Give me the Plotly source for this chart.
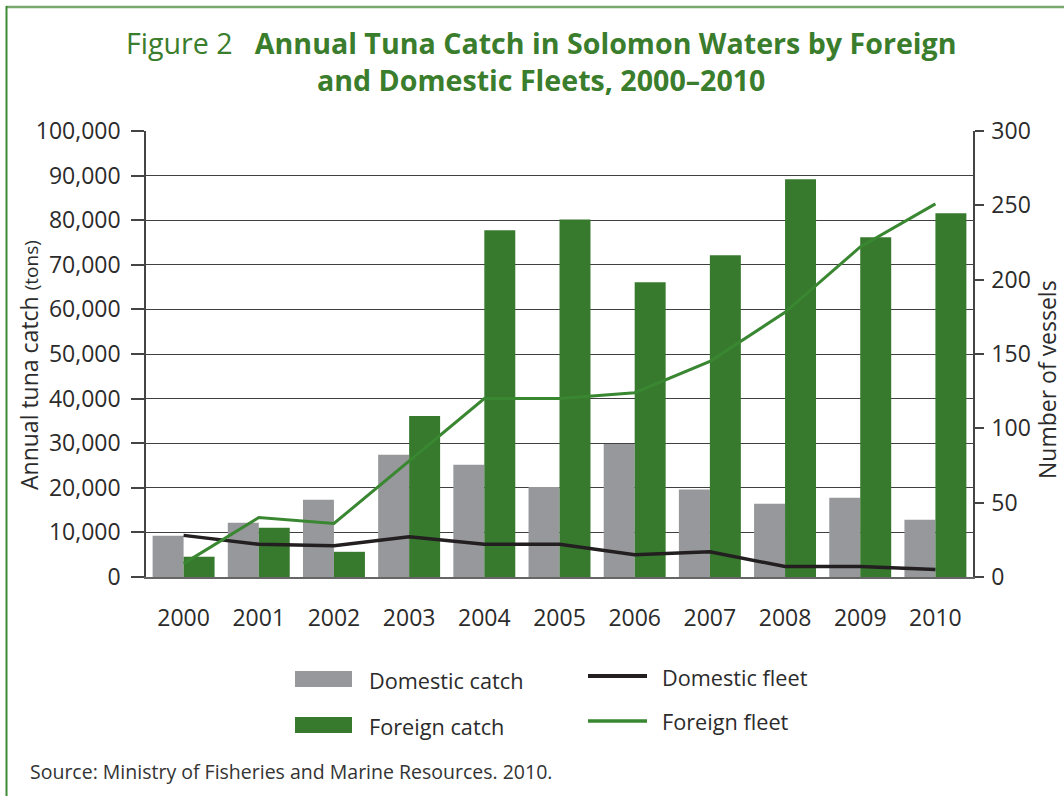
import plotly.graph_objects as go

# Data
years = ['2000', '2001', '2002', '2003', '2004', '2005',
         '2006', '2007', '2008', '2009', '2010']
domestic_catch = [9250, 12150, 17300, 27400, 25150, 20200,
                  29800, 19600, 16400, 17750, 12850]
foreign_catch = [4550, 11050, 5650, 36100, 77750, 80150,
                 66100, 72150, 89200, 76200, 81550]
domestic_fleet = [28, 22, 21, 27, 22, 22, 15, 17, 7, 7, 5]
foreign_fleet = [9, 40, 36, 78, 120, 120, 124, 145, 178, 222, 251]

series_names = ['Domestic catch', 'Foreign catch', 'Domestic fleet', 'Foreign fleet']

GREEN = '#377a2e'
GRAY = '#97989b'
BLACK = '#231f20'
LINE_GREEN = '#3a8732'
TITLE_GREEN = '#3a7d2c'
TEXT = '#2b2b2b'
FONT = 'Open Sans'

W, H = 1064, 796
# plot area in pixels (used to place the hand drawn legend / frame)
L, R, T, B = 146, 973, 131, 577


def px(x):
    return (x - L) / (R - L)


def py(y):
    return (B - y) / (B - T)


fig = go.Figure()

fig.add_bar(x=years, y=domestic_catch, name=series_names[0],
            marker=dict(color=GRAY, line=dict(width=0)))
fig.add_bar(x=years, y=foreign_catch, name=series_names[1],
            marker=dict(color=GREEN, line=dict(width=0)))
fig.add_scatter(x=years, y=domestic_fleet, name=series_names[2], yaxis='y2',
                mode='lines', line=dict(color=BLACK, width=3.5))
fig.add_scatter(x=years, y=foreign_fleet, name=series_names[3], yaxis='y2',
                mode='lines', line=dict(color=LINE_GREEN, width=3))

fig.update_layout(
    width=W, height=H,
    margin=dict(l=L, r=W - R, t=T, b=H - B, pad=0),
    paper_bgcolor='white', plot_bgcolor='white',
    font=dict(family=FONT, size=23, color=TEXT),
    showlegend=False,
    barmode='group', bargap=0.176, bargroupgap=0,
    xaxis=dict(
        type='category', showline=True, linecolor='#666', linewidth=1.5,
        ticks='', showgrid=False, tickfont=dict(size=23),
        ticklabelstandoff=20,
    ),
    yaxis=dict(
        range=[0, 100000], dtick=10000, tickformat=',',
        showgrid=True, gridcolor='#404040', gridwidth=1.2,
        showline=True, linecolor='#444', linewidth=1.5,
        ticks='outside', ticklen=13, tickcolor='#444', tickwidth=1.5,
        tickfont=dict(size=23), ticklabelstandoff=6, zeroline=False,
    ),
    yaxis2=dict(
        range=[0, 300], dtick=50, overlaying='y', side='right',
        showgrid=False, showline=True, linecolor='#444', linewidth=1.5,
        ticks='outside', ticklen=9, tickcolor='#444', tickwidth=1.5,
        tickfont=dict(size=23), ticklabelstandoff=3, zeroline=False,
    ),
)

# title
fig.add_annotation(
    text=('Figure 2\u00a0\u00a0\u00a0<b>Annual Tuna Catch in Solomon Waters by Foreign'
          '<br>and Domestic Fleets, 2000\u20132010</b>'),
    x=px(541), y=py(61), xref='paper', yref='paper', xanchor='center',
    yanchor='middle', showarrow=False,
    font=dict(family=FONT, size=28.6, color=TITLE_GREEN),
)

# axis titles
fig.add_annotation(
    text='Annual tuna catch <span style="font-size:19px">(tons)</span>',
    x=px(29), y=py(365), xref='paper', yref='paper', textangle=-90,
    xanchor='center', yanchor='middle',
    showarrow=False, font=dict(size=23, color=TEXT),
)
fig.add_annotation(
    text='Number of vessels', x=px(1047), y=py(380), xref='paper', yref='paper',
    textangle=-90, xanchor='center', yanchor='middle',
    showarrow=False, font=dict(size=23, color=TEXT),
)

# green frame around the figure
fig.add_shape(type='line', xref='paper', yref='paper',
              x0=px(6), x1=px(1070), y0=py(7), y1=py(7),
              line=dict(color='#78a96f', width=2.5))
fig.add_shape(type='line', xref='paper', yref='paper',
              x0=px(6.5), x1=px(6.5), y0=py(6), y1=py(800),
              line=dict(color='#3e8a35', width=2))

# legend (drawn by hand so the swatches match the original)
fig.add_shape(type='rect', xref='paper', yref='paper',
              x0=px(295), x1=px(352), y0=py(671), y1=py(687),
              fillcolor=GRAY, line=dict(width=0))
fig.add_shape(type='rect', xref='paper', yref='paper',
              x0=px(295), x1=px(352), y0=py(717), y1=py(733),
              fillcolor=GREEN, line=dict(width=0))
fig.add_shape(type='line', xref='paper', yref='paper',
              x0=px(588), x1=px(647), y0=py(676), y1=py(676),
              line=dict(color=BLACK, width=4))
fig.add_shape(type='line', xref='paper', yref='paper',
              x0=px(588), x1=px(647), y0=py(721), y1=py(721),
              line=dict(color=LINE_GREEN, width=3.5))
for name, x, y in [(series_names[0], 367, 680), (series_names[1], 367, 726),
                   (series_names[2], 660, 677), (series_names[3], 660, 721)]:
    fig.add_annotation(text=name, x=px(x), y=py(y), xref='paper', yref='paper',
                       xanchor='left', yanchor='middle', showarrow=False,
                       font=dict(size=21.7, color=TEXT))

fig.add_annotation(
    text='Source: Ministry of Fisheries and Marine Resources. 2010.',
    x=px(28), y=py(771), xref='paper', yref='paper', xanchor='left',
    yanchor='middle', showarrow=False, font=dict(size=19.5, color='#333'),
)

# drop the default page margin so the figure sits at the window's corner
fig.write_html('out.html', config={'displayModeBar': False},
               post_script="document.body.style.margin='0';")
